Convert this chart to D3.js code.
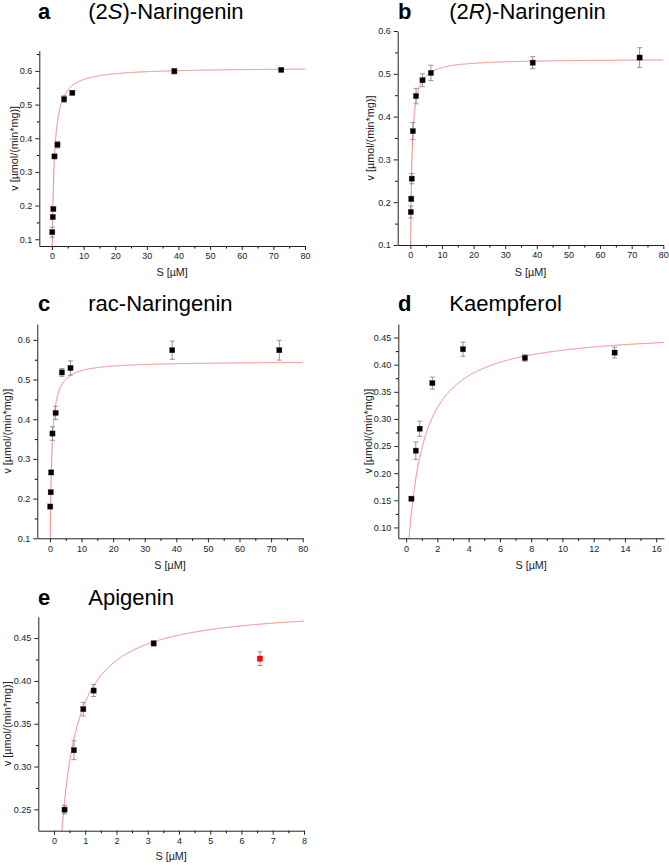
<!DOCTYPE html>
<html>
<head>
<meta charset="utf-8">
<script src="https://cdn.jsdelivr.net/npm/d3@7"></script>
<style>
  html, body { margin: 0; padding: 0; background: #fff; }
  svg { display: block; font-family: "Liberation Sans", Arial, sans-serif; }
</style>
</head>
<body>
<svg id="chart" width="669" height="865"></svg>
<script>
// ---------------- DATA ----------------
const panelLetters = ["a", "b", "c", "d", "e"];
const panelTitles = [
  ["(2", "S", ")-Naringenin"],
  ["(2", "R", ")-Naringenin"],
  ["rac-Naringenin", "", ""],
  ["Kaempferol", "", ""],
  ["Apigenin", "", ""]
];

// Substrate concentrations S [µM]
const sNaringeninS = [0.1, 0.25, 0.45, 0.8, 1.75, 3.85, 6.45, 38.7, 72.5];
const sNaringeninR = [0.15, 0.3, 0.45, 0.8, 1.8, 3.85, 6.5, 38.7, 72.5];
const sNaringeninRac = [0.1, 0.25, 0.4, 0.8, 1.8, 3.8, 6.5, 38.7, 72.6];
const sKaempferol = [0.34, 0.62, 0.87, 1.68, 3.64, 7.6, 13.34];
const sApigenin = [0.34, 0.64, 0.94, 1.27, 3.19, 6.59];

// Velocities v [µmol/(min*mg)]
const vNaringeninS = [0.121, 0.166, 0.190, 0.346, 0.381, 0.516, 0.535, 0.599, 0.603];
const vNaringeninR = [0.177, 0.208, 0.255, 0.366, 0.448, 0.485, 0.502, 0.526, 0.538];
const vNaringeninRac = [0.180, 0.216, 0.266, 0.364, 0.416, 0.518, 0.529, 0.574, 0.574];
const vKaempferol = [0.153, 0.2415, 0.282, 0.366, 0.4285, 0.4125, 0.4223];
const vApigenin = [0.2496, 0.319, 0.367, 0.3887, 0.4438, 0.426];

// Standard deviations
const eNaringeninS = [0.015, 0.005, 0.004, 0.005, 0.010, 0.010, 0.006, 0.008, 0.004];
const eNaringeninR = [0.014, 0.006, 0.012, 0.020, 0.018, 0.015, 0.018, 0.014, 0.023];
const eNaringeninRac = [0.004, 0.004, 0.004, 0.017, 0.017, 0.010, 0.018, 0.023, 0.025];
const eKaempferol = [0.004, 0.016, 0.014, 0.011, 0.013, 0.006, 0.010];
const eApigenin = [0.005, 0.011, 0.008, 0.007, 0.003, 0.008];

// Excluded (red) points flags
const excludedApigenin = [false, false, false, false, false, true];

// Michaelis-Menten fit parameters
const fitVmax = [0.61, 0.535, 0.546, 0.465, 0.4875];
const fitKm = [0.62, 0.40, 0.45, 0.90, 0.30];

// Axis domains & ticks
const xDomains = [[-4, 80], [-4, 80], [-4, 80], [-0.5, 16.5], [-0.5, 8]];
const yDomains = [[0.08, 0.66], [0.1, 0.6], [0.1, 0.64], [0.08, 0.475], [0.225, 0.475]];
const xMajorTicks = [
  [0, 10, 20, 30, 40, 50, 60, 70, 80],
  [0, 10, 20, 30, 40, 50, 60, 70, 80],
  [0, 10, 20, 30, 40, 50, 60, 70, 80],
  [0, 2, 4, 6, 8, 10, 12, 14, 16],
  [0, 1, 2, 3, 4, 5, 6, 7, 8]
];
const xMinorTicks = [
  [5, 15, 25, 35, 45, 55, 65, 75],
  [5, 15, 25, 35, 45, 55, 65, 75],
  [5, 15, 25, 35, 45, 55, 65, 75],
  [1, 3, 5, 7, 9, 11, 13, 15],
  [0.5, 1.5, 2.5, 3.5, 4.5, 5.5, 6.5, 7.5]
];
const yMajorTicks = [
  [0.1, 0.2, 0.3, 0.4, 0.5, 0.6],
  [0.1, 0.2, 0.3, 0.4, 0.5, 0.6],
  [0.1, 0.2, 0.3, 0.4, 0.5, 0.6],
  [0.10, 0.15, 0.20, 0.25, 0.30, 0.35, 0.40, 0.45],
  [0.25, 0.30, 0.35, 0.40, 0.45]
];
const yMinorTicks = [
  [0.15, 0.25, 0.35, 0.45, 0.55, 0.65],
  [0.15, 0.25, 0.35, 0.45, 0.55],
  [0.15, 0.25, 0.35, 0.45, 0.55],
  [0.125, 0.175, 0.225, 0.275, 0.325, 0.375, 0.425],
  [0.275, 0.325, 0.375, 0.425]
];
const yTickDecimals = [1, 1, 1, 2, 2];
const xAxisLabel = "S [µM]";
const yAxisLabel = "v [µmol/(min*mg)]";

// ---------------- LAYOUT ----------------
const layout = [
  {l: 39.3, r: 305, t: 50.7, b: 246, letterX: 38, titleX: 88.3, titleY: 18.5, ylabX: 14, xlabY: 276},
  {l: 397.7, r: 663.3, t: 31, b: 245, letterX: 398, titleX: 449.3, titleY: 18.5, ylabX: 370, xlabY: 276},
  {l: 37.3, r: 302.7, t: 324, b: 538.3, letterX: 38, titleX: 88.3, titleY: 310.7, ylabX: 7, xlabY: 568.5},
  {l: 398.3, r: 664, t: 324, b: 538.3, letterX: 398, titleX: 449.3, titleY: 310.7, ylabX: 368, xlabY: 568.5},
  {l: 38.3, r: 304, t: 616.7, b: 830.7, letterX: 38, titleX: 88.3, titleY: 604.5, ylabX: 7, xlabY: 860}
];

const allS = [sNaringeninS, sNaringeninR, sNaringeninRac, sKaempferol, sApigenin];
const allV = [vNaringeninS, vNaringeninR, vNaringeninRac, vKaempferol, vApigenin];
const allE = [eNaringeninS, eNaringeninR, eNaringeninRac, eKaempferol, eApigenin];
const allExcl = [null, null, null, null, excludedApigenin];

const svg = d3.select("#chart");
const defs = svg.append("defs");

layout.forEach((L, i) => {
  const x = d3.scaleLinear().domain(xDomains[i]).range([L.l, L.r]);
  const y = d3.scaleLinear().domain(yDomains[i]).range([L.b, L.t]);
  const g = svg.append("g");

  // clip
  defs.append("clipPath").attr("id", "clip" + i)
    .append("rect").attr("x", L.l).attr("y", L.t).attr("width", L.r - L.l).attr("height", L.b - L.t);

  // Fit curve (Michaelis-Menten model from fit parameters)
  const xmax = xDomains[i][1];
  const samples = d3.range(0, 1001).map(k => 0.0005 * xmax + (xmax * 0.9995) * Math.pow(k / 1000, 2.2));
  const curve = samples.map(s => [s, fitVmax[i] * s / (fitKm[i] + s)]);
  g.append("path")
    .attr("clip-path", "url(#clip" + i + ")")
    .attr("d", d3.line().x(d => x(d[0])).y(d => y(d[1]))(curve))
    .attr("fill", "none")
    .attr("stroke", "#ef7f7f")
    .attr("stroke-width", 1);

  // Axes: minor ticks
  g.append("g").attr("transform", `translate(0,${L.b})`)
    .call(d3.axisBottom(x).tickValues(xMinorTicks[i]).tickSize(2.5).tickSizeOuter(0).tickFormat(""))
    .call(a => a.select(".domain").remove());
  g.append("g").attr("transform", `translate(${L.l},0)`)
    .call(d3.axisLeft(y).tickValues(yMinorTicks[i].filter(v => v <= yDomains[i][1] && v >= yDomains[i][0])).tickSize(2.5).tickSizeOuter(0).tickFormat(""))
    .call(a => a.select(".domain").remove());

  // Major axes
  const xa = g.append("g").attr("transform", `translate(0,${L.b})`)
    .call(d3.axisBottom(x).tickValues(xMajorTicks[i]).tickSize(4).tickPadding(3).tickSizeOuter(0).tickFormat(d3.format("d")));
  const ya = g.append("g").attr("transform", `translate(${L.l},0)`)
    .call(d3.axisLeft(y).tickValues(yMajorTicks[i]).tickSize(4).tickPadding(3).tickSizeOuter(0).tickFormat(d3.format("." + yTickDecimals[i] + "f")));
  [xa, ya].forEach(a => {
    a.selectAll("text").attr("font-size", 9).attr("fill", "#222").attr("font-family", "Liberation Sans, Arial, sans-serif");
    a.selectAll("line").attr("stroke", "#222");
    a.select(".domain").attr("stroke", "#222");
  });

  // Error bars
  const pts = allS[i].map((s, k) => ({s, v: allV[i][k], e: allE[i][k], ex: allExcl[i] ? allExcl[i][k] : false}));
  const eg = g.append("g").attr("stroke", "#8a8a8a").attr("stroke-width", 0.9);
  pts.forEach(p => {
    const cx = x(p.s);
    eg.append("line").attr("x1", cx).attr("x2", cx).attr("y1", y(p.v - p.e)).attr("y2", y(p.v + p.e));
    eg.append("line").attr("x1", cx - 2.5).attr("x2", cx + 2.5).attr("y1", y(p.v - p.e)).attr("y2", y(p.v - p.e));
    eg.append("line").attr("x1", cx - 2.5).attr("x2", cx + 2.5).attr("y1", y(p.v + p.e)).attr("y2", y(p.v + p.e));
  });

  // Points
  g.append("g").selectAll("rect").data(pts).join("rect")
    .attr("x", d => x(d.s) - 2.6).attr("y", d => y(d.v) - 2.6)
    .attr("width", 5.2).attr("height", 5.2)
    .attr("fill", d => d.ex ? "#ff0000" : "#000")
    .attr("stroke", d => d.ex ? "#e00000" : "#333").attr("stroke-width", 0.4);

  // Axis labels
  g.append("text").attr("x", (L.l + L.r) / 2).attr("y", L.xlabY)
    .attr("text-anchor", "middle").attr("font-size", 10.8).attr("fill", "#222").text(xAxisLabel);
  g.append("text")
    .attr("transform", `translate(${L.ylabX + 4},${(L.t + L.b) / 2}) rotate(-90)`)
    .attr("text-anchor", "middle").attr("font-size", 10.8).attr("fill", "#222").text(yAxisLabel);

  // Panel letter & title
  g.append("text").attr("x", L.letterX).attr("y", L.titleY)
    .attr("font-size", 22).attr("font-weight", "bold").attr("fill", "#000").text(panelLetters[i]);
  const t = g.append("text").attr("x", L.titleX).attr("y", L.titleY)
    .attr("font-size", 22).attr("fill", "#000");
  t.append("tspan").text(panelTitles[i][0]);
  if (panelTitles[i][1]) t.append("tspan").attr("font-style", "italic").text(panelTitles[i][1]);
  if (panelTitles[i][2]) t.append("tspan").text(panelTitles[i][2]);
});
</script>
</body>
</html>
